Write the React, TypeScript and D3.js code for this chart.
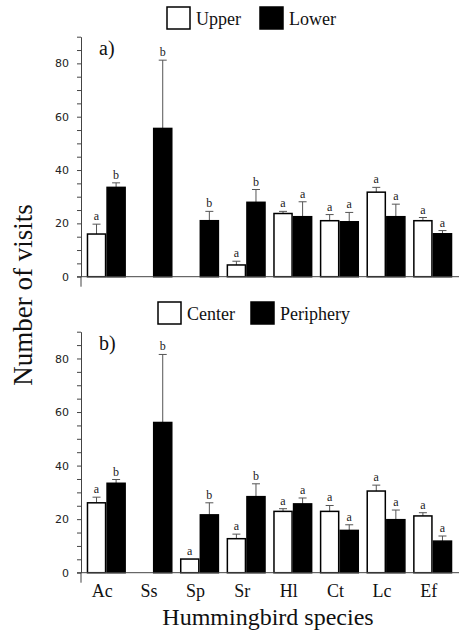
import React, { useEffect, useRef } from "react"
import * as d3 from "d3"

const species = ["Ac", "Ss", "Sp", "Sr", "Hl", "Ct", "Lc", "Ef"]

// panel a) Upper vs Lower
const upperMean = [16, null, null, 4.4, 23.7, 21, 31.7, 21]
const upperSE = [3.7, null, null, 1.4, 0.8, 2.3, 1.8, 1.2]
const upperLetter = ["a", "", "", "a", "a", "a", "a", "a"]
const lowerMean = [33.5, 55.6, 21, 27.9, 22.5, 20.6, 22.5, 16.1]
const lowerSE = [1.7, 25.6, 3.5, 4.8, 5.6, 3.5, 4.7, 1.2]
const lowerLetter = ["b", "b", "b", "b", "a", "a", "a", "a"]

// panel b) Center vs Periphery
const centerMean = [26.1, null, 5.1, 12.7, 22.9, 22.9, 30.5, 21.2]
const centerSE = [2.1, null, 0, 1.7, 1.0, 2.2, 2.2, 1.2]
const centerLetter = ["a", "", "a", "a", "a", "a", "a", "a"]
const periphMean = [33.4, 56.1, 21.6, 28.4, 25.7, 15.8, 19.8, 11.8]
const periphSE = [1.4, 25.4, 4.5, 4.8, 2.2, 2.1, 3.6, 1.9]
const periphLetter = ["b", "b", "b", "b", "a", "a", "a", "a"]

const yTicks = d3.range(0, 91, 5)

const serif = "'Liberation Serif', 'Times New Roman', serif"

export default function App() {
  const ref = useRef<SVGSVGElement>(null)

  useEffect(() => {
    const svg = d3.select(ref.current)
    svg.selectAll("*").remove()

    const width = 459
    const axisX = 81

    const x = d3.scaleBand()
      .domain(species)
      .range([83, 456])
      .paddingInner(0.16)
      .paddingOuter(0.08)

    const sub = d3.scaleBand()
      .domain(["first", "second"])
      .range([0, x.bandwidth()])

    const panels = [
      {
        label: "a)", y0: 276.7, yTop: 36.7, legendY: 7, labelY: 55,
        names: ["Upper", "Lower"], legendX: [167, 260],
        series: [
          { key: "first", mean: upperMean, se: upperSE, letters: upperLetter, fill: "#fff" },
          { key: "second", mean: lowerMean, se: lowerSE, letters: lowerLetter, fill: "#000" },
        ],
      },
      {
        label: "b)", y0: 572.7, yTop: 331.7, legendY: 302, labelY: 350,
        names: ["Center", "Periphery"], legendX: [158, 251],
        series: [
          { key: "first", mean: centerMean, se: centerSE, letters: centerLetter, fill: "#fff" },
          { key: "second", mean: periphMean, se: periphSE, letters: periphLetter, fill: "#000" },
        ],
      },
    ]

    panels.forEach((p, pi) => {
      const y = d3.scaleLinear().domain([0, 90]).range([p.y0, p.yTop])
      const g = svg.append("g")

      // y axis
      const yAxis = g.append("g")
        .attr("transform", `translate(${axisX},0)`)
        .call(
          d3.axisLeft(y)
            .tickValues(yTicks)
            .tickSize(4)
            .tickSizeOuter(0)
            .tickFormat(d => (+d % 20 === 0 ? String(d) : ""))
        )
      yAxis.select(".domain").attr("stroke", "#444")
      yAxis.selectAll(".tick line").attr("stroke", "#444")
      yAxis.selectAll("text")
        .attr("font-family", "'DejaVu Sans', Verdana, sans-serif")
        .attr("font-size", 11)
        .attr("fill", "#222")
        .attr("x", -12)
      g.append("line")
        .attr("x1", axisX).attr("x2", axisX)
        .attr("y1", y(0)).attr("y2", y(0) + 10)
        .attr("stroke", "#444")

      // bars
      p.series.forEach(s => {
        species.forEach((sp, i) => {
          const m = s.mean[i]
          if (m == null) return
          const bx = (x(sp) as number) + (sub(s.key) as number)
          const bw = sub.bandwidth()
          const top = m + (s.se[i] as number)
          if ((s.se[i] as number) > 0) {
            g.append("line")
              .attr("x1", bx + bw / 2).attr("x2", bx + bw / 2)
              .attr("y1", y(m)).attr("y2", y(top))
              .attr("stroke", "#555").attr("stroke-width", 1)
            g.append("line")
              .attr("x1", bx + bw / 2 - 4).attr("x2", bx + bw / 2 + 4)
              .attr("y1", y(top)).attr("y2", y(top))
              .attr("stroke", "#555").attr("stroke-width", 1)
          }
          g.append("rect")
            .attr("x", bx + 0.75)
            .attr("y", y(m))
            .attr("width", bw - 1.5)
            .attr("height", y(0) - y(m))
            .attr("fill", s.fill)
            .attr("stroke", "#000")
            .attr("stroke-width", 1.5)
          if (s.letters[i]) {
            g.append("text")
              .attr("x", bx + bw / 2)
              .attr("y", y(top) - 4)
              .attr("text-anchor", "middle")
              .attr("font-family", serif)
              .attr("font-size", 12)
              .attr("fill", "#222")
              .text(s.letters[i])
          }
        })
      })

      // x axis line
      g.append("line")
        .attr("x1", 77).attr("x2", width)
        .attr("y1", y(0)).attr("y2", y(0))
        .attr("stroke", "#444").attr("stroke-width", 1)

      // panel label
      g.append("text")
        .attr("x", 99).attr("y", p.labelY)
        .attr("font-family", serif).attr("font-size", 20)
        .attr("fill", "#111")
        .text(p.label)

      // legend
      p.names.forEach((n, k) => {
        g.append("rect")
          .attr("x", p.legendX[k]).attr("y", p.legendY)
          .attr("width", 23).attr("height", 22)
          .attr("fill", k === 0 ? "#fff" : "#000")
          .attr("stroke", "#000").attr("stroke-width", 1.5)
        g.append("text")
          .attr("x", p.legendX[k] + 29).attr("y", p.legendY + 18)
          .attr("font-family", serif).attr("font-size", 18)
          .attr("fill", "#111")
          .text(n)
      })

      // species labels under lower panel
      if (pi === 1) {
        const xAxis = g.append("g")
          .attr("transform", `translate(-4,${y(0)})`)
          .call(d3.axisBottom(x).tickSize(0).tickPadding(12))
        xAxis.select(".domain").remove()
        xAxis.selectAll("text")
          .attr("font-family", serif)
          .attr("font-size", 18)
          .attr("fill", "#111")
      }
    })

    svg.append("text")
      .attr("transform", "translate(32,295) rotate(-90)")
      .attr("text-anchor", "middle")
      .attr("font-family", serif).attr("font-size", 27)
      .attr("fill", "#111")
      .text("Number of visits")

    svg.append("text")
      .attr("x", 268).attr("y", 625)
      .attr("text-anchor", "middle")
      .attr("font-family", serif).attr("font-size", 24)
      .attr("fill", "#111")
      .text("Hummingbird species")
  }, [])

  return (
    <svg ref={ref} width={459} height={639}
      style={{ position: "absolute", left: 0, top: 0, background: "#fff" }} />
  )
}
